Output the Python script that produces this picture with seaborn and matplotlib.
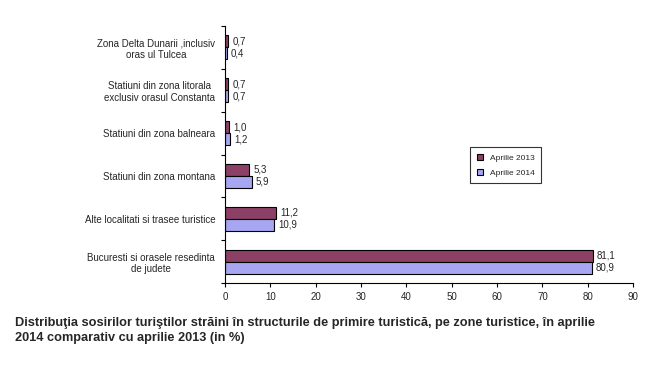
import pandas as pd
import numpy as np
import seaborn as sns
import matplotlib.pyplot as plt

zones = ['Zona Delta Dunarii ,inclusiv\noras ul Tulcea',
         'Statiuni din zona litorala\nexclusiv orasul Constanta',
         'Statiuni din zona balneara',
         'Statiuni din zona montana',
         'Alte localitati si trasee turistice',
         'Bucuresti si orasele resedinta\nde judete']
apr_2013 = [0.7, 0.7, 1.0, 5.3, 11.2, 81.1]
apr_2014 = [0.4, 0.7, 1.2, 5.9, 10.9, 80.9]
years = ['Aprilie 2013', 'Aprilie 2014']
colors = ['#993366', '#9999FF']

df = pd.DataFrame({'zona': zones * 2,
                   'val': apr_2013 + apr_2014,
                   'an': [years[0]] * len(zones) + [years[1]] * len(zones)})

sns.set_style('white')
plt.rcParams['font.family'] = ['Liberation Sans', 'DejaVu Sans']

fig = plt.figure(figsize=(6.5, 3.82), dpi=100)
ax = fig.add_axes([0.346, 0.259, 0.628, 0.673])
sns.barplot(data=df, y='zona', x='val', hue='an', palette=colors, orient='h',
            width=0.56, edgecolor='black', linewidth=0.8, ax=ax)

for cont in ax.containers:
    ax.bar_label(cont, labels=[('%.1f' % v).replace('.', ',') for v in cont.datavalues],
                 padding=3, fontsize=7)

ax.set_xlim(0, 90)
ax.set_xticks(range(0, 91, 10))
ax.set_ylim(5.5, -0.5)
ax.set_xlabel('')
ax.set_ylabel('')
ax.tick_params(axis='x', labelsize=7, length=3, width=0.8, direction='out', bottom=True, color='black')
ax.tick_params(axis='y', which='major', labelsize=7, length=0, pad=7)
ax.set_yticks(np.arange(-0.5, 6, 1), minor=True)
ax.tick_params(axis='y', which='minor', length=3, width=0.8, direction='out', left=True, color='black')
for lbl in ax.get_yticklabels():
    lbl.set_multialignment('center')
for s in ['top', 'right']:
    ax.spines[s].set_visible(False)
for s in ['left', 'bottom']:
    ax.spines[s].set_color('black')
    ax.spines[s].set_linewidth(0.8)

leg = ax.legend(loc='upper left', bbox_to_anchor=(0.59, 0.545), fontsize=6,
                frameon=True, fancybox=False, edgecolor='black',
                handlelength=0.8, handleheight=0.8, borderpad=0.8, labelspacing=0.8)
leg.get_frame().set_linewidth(0.8)

fig.text(0.023, 0.135, 'Distribuţia sosirilor turiştilor străini în structurile de primire turistică, '
         'pe zone turistice, în aprilie\n2014 comparativ cu aprilie 2013 (in %)',
         fontsize=9.2, fontweight='bold', ha='left', va='center', linespacing=1.25)

plt.savefig('out.png', dpi=100)
